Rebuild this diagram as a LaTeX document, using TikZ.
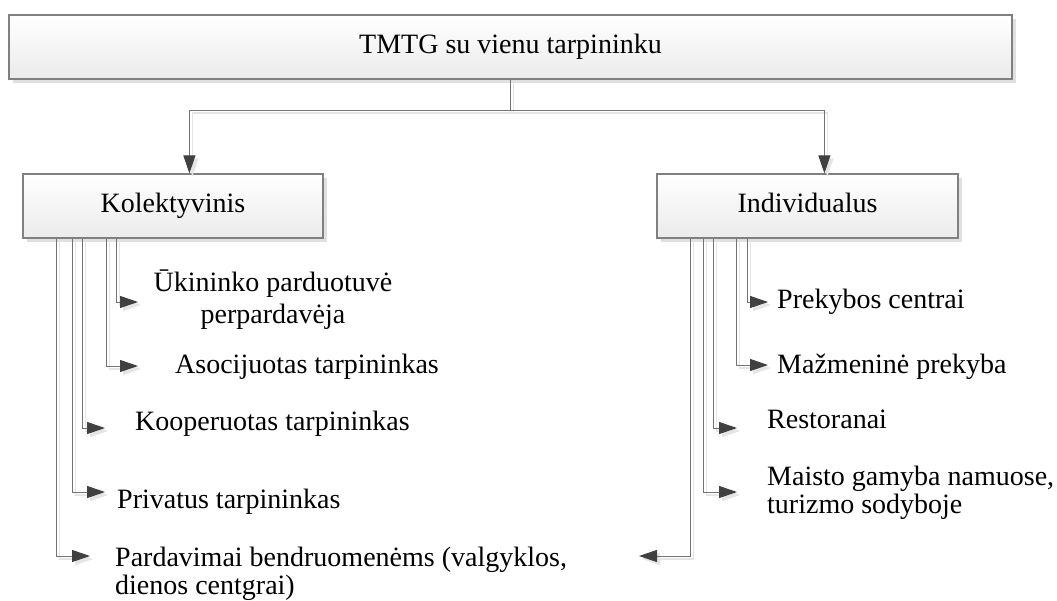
\documentclass[tikz,border=0pt]{standalone}
\usepackage{fontspec}
\setmainfont{Liberation Serif}
\usetikzlibrary{arrows.meta, shadows}

\begin{document}
\begin{tikzpicture}[x=1pt, y=-1pt,
    box/.style={draw=black!50, line width=1.2pt, top color=white, bottom color=black!8,
        minimum height=64pt, inner sep=0pt, text height=19pt, text depth=6pt,
        font=\fontsize{28}{32}\selectfont,
        drop shadow={shadow xshift=4pt, shadow yshift=-4pt, fill=black!12, opacity=1}},
    lbl/.style={inner sep=0pt, font=\fontsize{28}{30}\selectfont},
    link/.style={draw=black!55, line width=1pt, -{Triangle[length=18pt, width=12pt, color=black!75]},
        preaction={draw=black!10, line width=1.5pt, -{Triangle[length=18pt, width=12pt]},
            transform canvas={shift={(3pt,-3pt)}}}}]
    \useasboundingbox (0,0) rectangle (1057,600);

    % boxes
    \node[box, minimum width=1003pt] (top) at (510.5,47) {TMTG su vienu tarpininku};
    \node[box, minimum width=300pt] (kol) at (173,206) {Kolektyvinis};
    \node[box, minimum width=301pt] (ind) at (807.5,206) {Individualus};

    % labels
    \node[lbl, align=center, anchor=north] (uki) at (273,270) {Ūkininko parduotuvė\\[2pt]perpardavėja};
    \node[lbl, anchor=base west] (asoc) at (175,373) {Asocijuotas tarpininkas};
    \node[lbl, anchor=base west] (koop) at (135,430) {Kooperuotas tarpininkas};
    \node[lbl, anchor=base west] (priv) at (117,508) {Privatus tarpininkas};
    \node[lbl, align=left, anchor=north west] (pard) at (115,547) {Pardavimai bendruomenėms (valgyklos,\\[-2pt]dienos centgrai)};
    \node[lbl, anchor=base west] (prek) at (777,308) {Prekybos centrai};
    \node[lbl, anchor=base west] (mazm) at (777,373) {Mažmeninė prekyba};
    \node[lbl, anchor=base west] (rest) at (767,428) {Restoranai};
    \node[lbl, align=left, anchor=north west] (mais) at (767,466) {Maisto gamyba namuose,\\[-2pt]turizmo sodyboje};

    \coordinate (j) at (510.5,110);
    \coordinate (k1) at (138,302);
    \coordinate (k2) at (138,366);
    \coordinate (k3) at (105,428);
    \coordinate (k4) at (105,492);
    \coordinate (k5) at (90,556);
    \coordinate (i1) at (768,302);
    \coordinate (i2) at (768,365);
    \coordinate (i3) at (737,428);
    \coordinate (i4) at (737,492);
    \coordinate (i5) at (639,556);

    % connectors
    \draw[link] (top.south) -- (j) -| ([xshift=167pt]kol.north west);
    \draw[link] (j) -| ([xshift=168pt]ind.north west);
    \foreach \dx/\c in {94/k1, 84/k2, 60/k3, 50/k4, 34/k5}
        \draw[link] ([xshift=\dx pt]kol.south west) |- (\c);
    \foreach \dx/\c in {91/i1, 80/i2, 57/i3, 47/i4, 34/i5}
        \draw[link] ([xshift=\dx pt]ind.south west) |- (\c);
\end{tikzpicture}
\end{document}
